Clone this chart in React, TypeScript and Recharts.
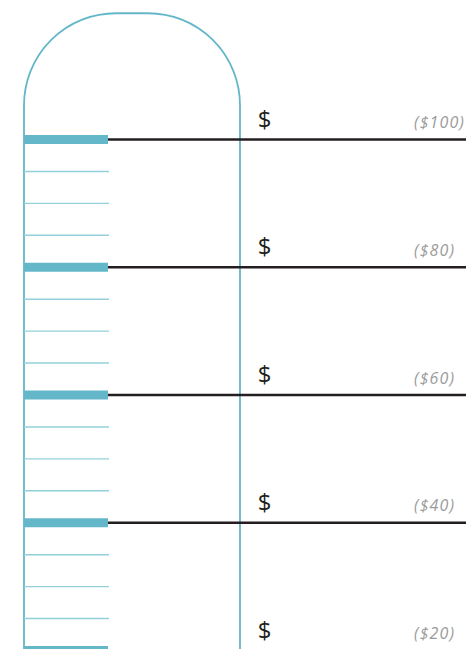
import React from 'react';
import { ComposedChart, XAxis, YAxis, ReferenceLine, ReferenceArea } from 'recharts';

// ---- data ----
const majorValues = [100, 80, 60, 40, 20];
const majorLabels = ['($100)', '($80)', '($60)', '($40)', '($20)'];
const minorValues = [95, 90, 85, 75, 70, 65, 55, 50, 45, 35, 30, 25];
const scaleMin = 0;
const scaleMax = 120;

// ---- layout / style ----
const W = 471;
const H = 780;
const TUBE_LEFT = 24;
const TUBE_RIGHT = 240;
const TICK_END = 108;
const LINE_END = 466;
const DOLLAR_X = 264.5;
const LABEL_X = 414;
const TEAL = '#63b7c9';
const TEAL_LIGHT = '#93d0dc';
const INK = '#231f20';
const GREY = '#9b9b9b';
const FONT = '"Open Sans", "DejaVu Sans", sans-serif';

const chartData = majorValues.map((v, i) => ({ x: 0, value: v, label: majorLabels[i] }));

const TubeShape = (props: any) => {
  const { x, y, width, height } = props;
  const r = 92;
  const inset = 1.5;
  const top = y + inset;
  const bottom = y + height;
  const left = x;
  const right = x + width;
  const d = `M ${left} ${bottom} L ${left} ${top + r} A ${r} ${r} 0 0 1 ${left + r} ${top} L ${right - r} ${top} A ${r} ${r} 0 0 1 ${right} ${top + r} L ${right} ${bottom}`;
  return <path d={d} fill="none" stroke={TEAL} strokeWidth={1.8} />;
};

const makeLabel = (text: string) => (props: any) => {
  const vb = props.viewBox || {};
  const y = vb.y;
  return (
    <g>
      <text x={DOLLAR_X} y={y - 12} textAnchor="middle" fontFamily={FONT} fontSize={24} fill={INK}>
        $
      </text>
      <text
        x={LABEL_X}
        y={y - 11.5}
        textAnchor="start"
        fontFamily={FONT}
        fontSize={16}
        fontStyle="italic"
        letterSpacing={1.1}
        fill={GREY}
      >
        {text}
      </text>
    </g>
  );
};

export default function App() {
  return (
    <div style={{ position: 'absolute', left: 0, top: 0, width: W, height: 649, overflow: 'hidden', background: '#fff' }}>
      <ComposedChart
        width={W}
        height={H}
        data={chartData}
        margin={{ top: 11.75, right: 0, bottom: 1.75, left: 0 }}
      >
        <XAxis type="number" dataKey="x" domain={[0, W]} hide allowDataOverflow />
        <YAxis type="number" domain={[scaleMin, scaleMax]} hide allowDataOverflow />
        <ReferenceArea
          x1={TUBE_LEFT}
          x2={TUBE_RIGHT}
          y1={scaleMin}
          y2={scaleMax}
          ifOverflow="visible"
          shape={TubeShape}
        />
        {minorValues.map((v) => (
          <ReferenceLine
            key={'minor' + v}
            segment={[{ x: TUBE_LEFT, y: v }, { x: TICK_END + 1, y: v }]}
            stroke={TEAL_LIGHT}
            strokeWidth={1.4}
            ifOverflow="visible"
          />
        ))}
        {majorValues.map((v, i) => (
          <ReferenceLine
            key={'line' + v}
            segment={[{ x: TICK_END, y: v }, { x: LINE_END, y: v }]}
            stroke={INK}
            strokeWidth={2.5}
            ifOverflow="visible"
            label={{ content: makeLabel(majorLabels[i]) }}
          />
        ))}
        {majorValues.map((v) => (
          <ReferenceLine
            key={'major' + v}
            segment={[{ x: TUBE_LEFT, y: v }, { x: TICK_END, y: v }]}
            stroke={TEAL}
            strokeWidth={9}
            ifOverflow="visible"
          />
        ))}
      </ComposedChart>
    </div>
  );
}
